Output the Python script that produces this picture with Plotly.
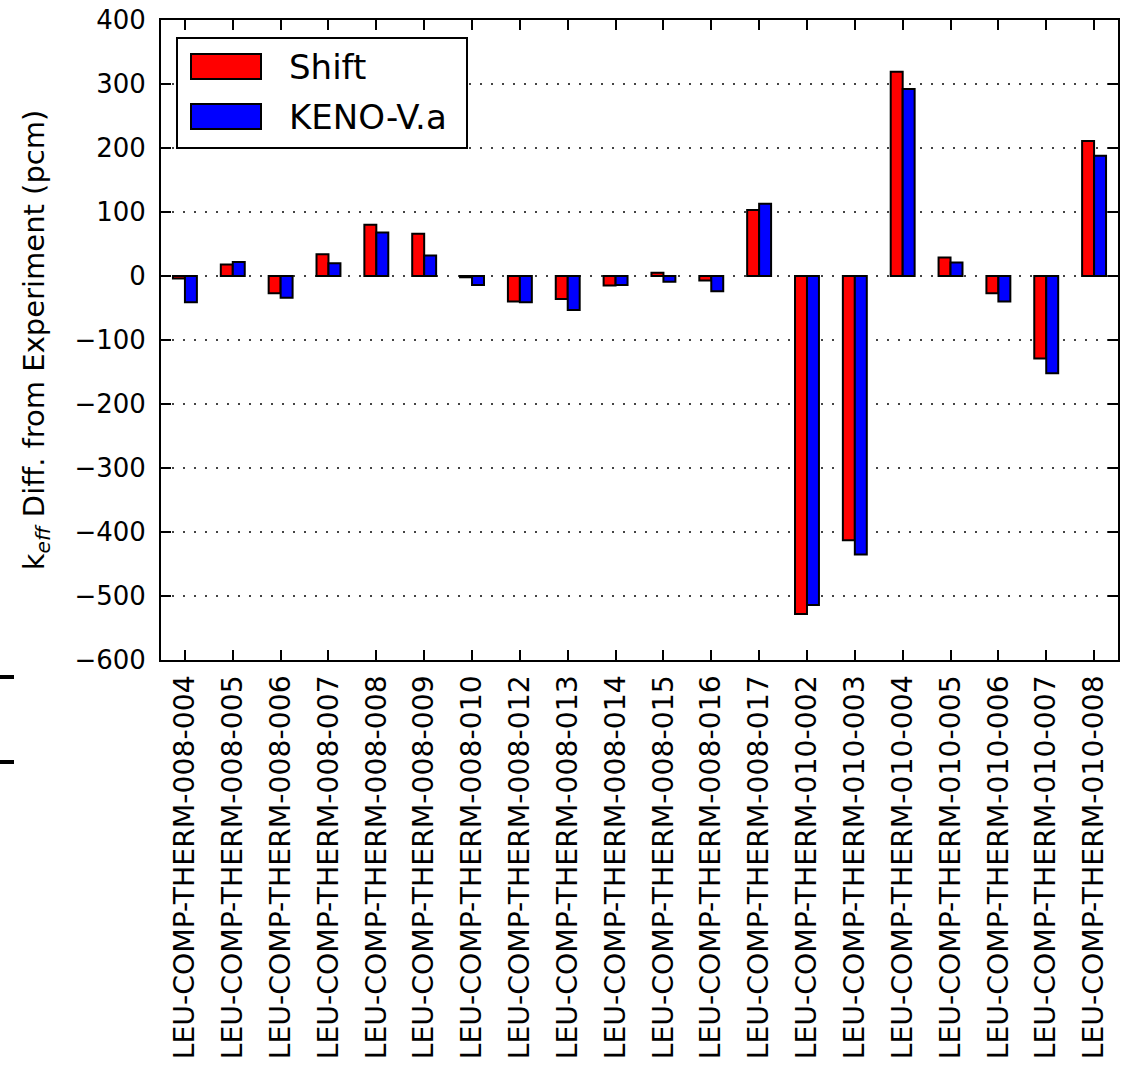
import plotly.graph_objects as go

# Benchmark cases
cases = [
    "LEU-COMP-THERM-008-004", "LEU-COMP-THERM-008-005", "LEU-COMP-THERM-008-006",
    "LEU-COMP-THERM-008-007", "LEU-COMP-THERM-008-008", "LEU-COMP-THERM-008-009",
    "LEU-COMP-THERM-008-010", "LEU-COMP-THERM-008-012", "LEU-COMP-THERM-008-013",
    "LEU-COMP-THERM-008-014", "LEU-COMP-THERM-008-015", "LEU-COMP-THERM-008-016",
    "LEU-COMP-THERM-008-017", "LEU-COMP-THERM-010-002", "LEU-COMP-THERM-010-003",
    "LEU-COMP-THERM-010-004", "LEU-COMP-THERM-010-005", "LEU-COMP-THERM-010-006",
    "LEU-COMP-THERM-010-007", "LEU-COMP-THERM-010-008",
]

# k_eff difference from experiment (pcm)
shift_diff = [-4, 18, -27, 34, 80, 66, -2, -40, -36, -15, 5, -7, 103,
              -528, -413, 319, 29, -27, -129, 211]
keno_diff = [-41, 22, -34, 20, 68, 32, -14, -41, -53, -14, -9, -24, 113,
             -514, -435, 292, 21, -40, -152, 188]

y_ticks = [400, 300, 200, 100, 0, -100, -200, -300, -400, -500, -600]

FONT = "DejaVu Sans"
idx = list(range(len(cases)))

# plot-area geometry in pixels, used to place the legend panel
L, R, T, B = 161, 1118, 20, 660
PW, PH = R - L, B - T


def px(xp):
    return (xp - L) / PW


def py(yp):
    return 1 - (yp - T) / PH


fig = go.Figure()
fig.add_trace(go.Bar(
    x=idx, y=shift_diff, name="Shift", width=0.25, offset=-0.25,
    marker=dict(color="#ff0000", line=dict(color="black", width=2)),
))
fig.add_trace(go.Bar(
    x=idx, y=keno_diff, name="KENO-V.a", width=0.25, offset=0.0,
    marker=dict(color="#0000ff", line=dict(color="black", width=2)),
))

fig.update_layout(
    width=1129, height=1067, autosize=False,
    margin=dict(l=L, r=1129 - R, t=T, b=1067 - B, pad=0),
    paper_bgcolor="white", plot_bgcolor="white",
    showlegend=False,
    font=dict(family=FONT, color="black"),
)

fig.update_xaxes(
    range=[-0.5, len(cases) - 0.5], automargin=False,
    tickmode="array", tickvals=idx, ticktext=cases,
    tickangle=-90, tickfont=dict(family=FONT, size=28.3, color="black"),
    ticks="inside", ticklen=10, tickwidth=1.5, tickcolor="black",
    ticklabelstandoff=2,
    showline=True, linewidth=2, linecolor="black", mirror="allticks",
    showgrid=False, zeroline=False,
)

fig.update_yaxes(
    range=[-600, 400], automargin=False,
    tickmode="array", tickvals=y_ticks,
    tickfont=dict(family=FONT, size=26, color="black"),
    ticks="inside", ticklen=10, tickwidth=1.5, tickcolor="black",
    ticklabelstandoff=8,
    showline=True, linewidth=2, linecolor="black", mirror="allticks",
    showgrid=True, gridcolor="#444444", gridwidth=1.5, griddash="2px,9px",
    zeroline=False,
    title=dict(text="k<sub><i>eff</i></sub> Diff. from Experiment (pcm)",
               font=dict(family=FONT, size=29, color="black"), standoff=21),
)

# Legend panel with wide colour swatches
shapes = [
    dict(type="rect", xref="paper", yref="paper",
         x0=px(177), x1=px(467), y0=py(148), y1=py(38),
         line=dict(color="black", width=2), fillcolor="white", layer="above"),
    dict(type="rect", xref="paper", yref="paper",
         x0=px(191), x1=px(261), y0=py(79), y1=py(54),
         line=dict(color="black", width=2), fillcolor="#ff0000", layer="above"),
    dict(type="rect", xref="paper", yref="paper",
         x0=px(191), x1=px(261), y0=py(129), y1=py(104),
         line=dict(color="black", width=2), fillcolor="#0000ff", layer="above"),
    # stray marks at the left page edge
    dict(type="line", xref="paper", yref="paper",
         x0=px(0), x1=px(14), y0=py(677), y1=py(677),
         line=dict(color="black", width=4)),
    dict(type="line", xref="paper", yref="paper",
         x0=px(0), x1=px(14), y0=py(762), y1=py(762),
         line=dict(color="black", width=4)),
]
annotations = [
    dict(text="Shift", xref="paper", yref="paper",
         x=px(287), y=py(67), xanchor="left", yanchor="middle", showarrow=False,
         font=dict(family=FONT, size=34, color="black")),
    dict(text="KENO-V.a", xref="paper", yref="paper",
         x=px(287), y=py(117), xanchor="left", yanchor="middle", showarrow=False,
         font=dict(family=FONT, size=34, color="black")),
]
fig.update_layout(shapes=shapes, annotations=annotations)

fig.write_html("out.html")
